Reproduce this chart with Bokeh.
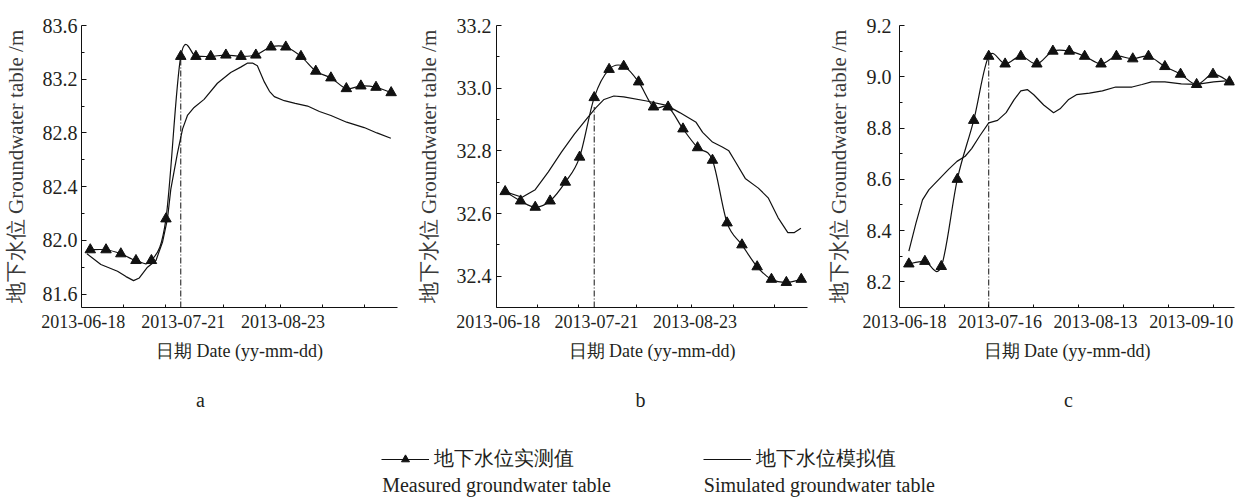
import numpy as np
from bokeh.plotting import figure
from bokeh.layouts import column, row
from bokeh.models import (Range1d, FixedTicker, NumeralTickFormatter, Legend,
                          LegendItem, Label)
from bokeh.embed import file_html
from bokeh.resources import INLINE

SERIF = "Liberation Serif"
TXT = "#231f20"
INK = "#111111"

# ---------------- data ----------------
# x is "days after 2013-06-18"
ab_label_days = [0, 33, 66]
ab_label_text = ["2013-06-18", "2013-07-21", "2013-08-23"]
ab_minor_days = [13.3, 27.0, 46.3, 60.1, 65.0, 79.1, 92.8]
c_label_days = [0, 28, 56, 84]
c_label_text = ["2013-06-18", "2013-07-16", "2013-08-13", "2013-09-10"]
c_minor_days = [11.8, 24.7, 37.8, 51.0, 64.2, 77.3, 90.5]

meas_days_ab = [2.3, 7.5, 12.4, 17.4, 22.5, 27.3, 32.2, 37.2, 42.1, 47.1, 52.1,
                57.0, 62.0, 66.9, 71.9, 76.8, 81.8, 86.9, 91.7, 96.7, 101.7]
meas_a = [81.93, 81.93, 81.90, 81.85, 81.85, 82.16, 83.37, 83.37, 83.37, 83.38, 83.37,
          83.38, 83.44, 83.44, 83.37, 83.26, 83.21, 83.13, 83.15, 83.14, 83.10]
sim_days_a = [1.2, 5.8, 11.3, 14.1, 16.6, 18.5, 21.2, 24.0, 26.2, 27.8, 28.9, 31.1,
              32.8, 34.4, 36.6, 39.9, 44.3, 48.7, 52.0, 54.3, 55.9, 57.5, 59.8, 61.5,
              63.1, 66.4, 70.0, 74.1, 78.0, 81.8, 87.0, 92.8, 97.0, 101.6]
sim_a = [81.90, 81.82, 81.77, 81.73, 81.70, 81.72, 81.80, 81.85, 81.99, 82.16, 82.38, 82.65,
         82.83, 82.93, 82.99, 83.05, 83.17, 83.25, 83.29, 83.32, 83.32, 83.30, 83.18, 83.11,
         83.07, 83.04, 83.02, 83.00, 82.96, 82.93, 82.88, 82.84, 82.80, 82.76]

meas_b = [32.67, 32.64, 32.62, 32.64, 32.70, 32.78, 32.97, 33.06, 33.07, 33.02, 32.94,
          32.94, 32.87, 32.81, 32.77, 32.57, 32.50, 32.43, 32.39, 32.38, 32.39]
sim_days_b = [2.3, 8.0, 12.4, 16.8, 21.2, 25.6, 30.0, 32.8, 35.5, 38.8, 42.1, 49.8, 56.5,
              60.9, 66.4, 68.6, 71.9, 75.2, 77.4, 79.6, 82.9, 87.3, 90.6, 93.9, 97.2,
              99.4, 101.6]
sim_b = [32.67, 32.652, 32.676, 32.733, 32.796, 32.854, 32.906, 32.938, 32.964, 32.975,
         32.972, 32.959, 32.945, 32.922, 32.891, 32.859, 32.828, 32.812, 32.80, 32.765,
         32.712, 32.681, 32.65, 32.587, 32.539, 32.539, 32.553]

meas_days_c = [1.3, 6.0, 10.8, 15.5, 20.3, 24.7, 29.5, 34.1, 38.8, 43.5, 48.3, 52.8,
               57.6, 62.1, 66.9, 71.5, 76.3, 80.9, 85.6, 90.4, 95.2]
meas_c = [8.27, 8.28, 8.26, 8.60, 8.83, 9.08, 9.05, 9.08, 9.05, 9.10, 9.10, 9.08,
          9.05, 9.08, 9.07, 9.08, 9.04, 9.01, 8.97, 9.01, 8.98]
sim_days_c = [1.3, 3.4, 5.3, 7.2, 10.1, 13.0, 15.4, 17.8, 19.7, 22.1, 24.7, 27.3, 29.8,
              32.1, 34.1, 36.0, 37.9, 40.8, 43.7, 45.6, 48.0, 50.4, 54.2, 58.0, 61.9,
              66.7, 69.6, 72.4, 76.3, 81.1, 85.6, 90.6, 95.2]
sim_c = [8.32, 8.43, 8.52, 8.56, 8.60, 8.64, 8.67, 8.69, 8.72, 8.77, 8.82, 8.83, 8.86,
         8.91, 8.945, 8.95, 8.93, 8.89, 8.86, 8.875, 8.91, 8.93, 8.936, 8.945, 8.96,
         8.96, 8.97, 8.98, 8.98, 8.972, 8.97, 8.98, 8.985]

# event marker (index into the measured series) and its top value in panel b
event_idx_ab = 6
event_idx_c = 5
event_top_b = 32.94

yticks_a = [81.6, 82.0, 82.4, 82.8, 83.2, 83.6]
yminor_a = [81.8, 82.2, 82.6, 83.0, 83.4]
yticks_b = [32.4, 32.6, 32.8, 33.0, 33.2]
yminor_b = [32.3, 32.5, 32.7, 32.9, 33.1]
yticks_c = [8.2, 8.4, 8.6, 8.8, 9.0, 9.2]
yminor_c = [8.1, 8.3, 8.5, 8.7, 8.9, 9.1]

Y_TITLE = "地下水位 Groundwater table /m"
X_TITLE = "日期 Date (yy-mm-dd)"
panel_letters = ["a", "b", "c"]
legend_cn = ["地下水位实测值", "地下水位模拟值"]
legend_en = ["Measured groundwater table", "Simulated groundwater table"]

ROW_H = 370
BOT_H = 129


def catmull_controls(xs, ys):
    """Cubic Bezier control points (Catmull-Rom) through the measured points."""
    x = np.asarray(xs, float)
    y = np.asarray(ys, float)
    n = len(x)
    qx = np.concatenate([[x[0]], x, [x[-1]]])
    qy = np.concatenate([[y[0]], y, [y[-1]]])
    cx0 = qx[1:n] + (qx[2:n + 1] - qx[0:n - 1]) / 6.0
    cy0 = qy[1:n] + (qy[2:n + 1] - qy[0:n - 1]) / 6.0
    cx1 = qx[2:n + 1] - (qx[3:n + 2] - qx[1:n]) / 6.0
    cy1 = qy[2:n + 1] - (qy[3:n + 2] - qy[1:n]) / 6.0
    return dict(x0=x[:-1], y0=y[:-1], x1=x[1:], y1=y[1:],
                cx0=cx0, cy0=cy0, cx1=cx1, cy1=cy1)


def make_panel(width, left, right, top, frame_h, xr, yr, yt, ym, xt, xl, xm,
               ytick_standoff, ylabel_standoff):
    p = figure(width=width, height=ROW_H, x_range=Range1d(*xr), y_range=Range1d(*yr),
               min_border_left=left, min_border_right=right, min_border_top=top,
               min_border_bottom=ROW_H - top - frame_h,
               output_backend="svg", toolbar_location=None)
    p.outline_line_color = None
    p.grid.visible = False
    p.background_fill_color = "white"
    p.border_fill_color = "white"

    xa = p.xaxis[0]
    xa.ticker = FixedTicker(ticks=xt, minor_ticks=xm)
    xa.major_label_overrides = {t: s for t, s in zip(xt, xl)}
    xa.major_tick_in = 0
    xa.major_tick_out = 0
    xa.minor_tick_in = 3
    xa.minor_tick_out = 0
    xa.major_label_standoff = 7
    xa.major_label_text_font = SERIF
    xa.major_label_text_font_size = "18px"
    xa.major_label_text_color = TXT
    xa.axis_label = X_TITLE
    xa.axis_label_text_font = SERIF
    xa.axis_label_text_font_size = "18px"
    xa.axis_label_text_font_style = "normal"
    xa.axis_label_text_color = TXT
    xa.axis_label_standoff = 10
    xa.axis_line_color = INK
    xa.major_tick_line_color = INK
    xa.minor_tick_line_color = INK

    ya = p.yaxis[0]
    ya.ticker = FixedTicker(ticks=yt, minor_ticks=ym)
    ya.formatter = NumeralTickFormatter(format="0.0")
    ya.major_tick_in = 5
    ya.major_tick_out = 0
    ya.minor_tick_in = 3
    ya.minor_tick_out = 0
    ya.major_label_standoff = ytick_standoff
    ya.major_label_text_font = SERIF
    ya.major_label_text_font_size = "20px"
    ya.major_label_text_color = TXT
    ya.axis_label = Y_TITLE
    ya.axis_label_text_font = SERIF
    ya.axis_label_text_font_size = "21px"
    ya.axis_label_text_font_style = "normal"
    ya.axis_label_text_color = "#3a3a3a"
    ya.axis_label_standoff = ylabel_standoff
    ya.axis_line_color = INK
    ya.major_tick_line_color = INK
    ya.minor_tick_line_color = INK
    return p


def draw_series(p, mdays, mvals, sdays, svals, ev_x, ev_bottom, ev_top):
    p.segment(x0=[ev_x], y0=[ev_bottom], x1=[ev_x], y1=[ev_top],
              line_color=INK, line_width=1, line_dash="6 2 1 2")
    p.line(sdays, svals, line_color=INK, line_width=1.2)
    p.bezier(line_color=INK, line_width=1.2, **catmull_controls(mdays, mvals))
    p.scatter(mdays, mvals, marker="triangle", size=10.5, fill_color=INK, line_color=INK)


pa = make_panel(413, 81, 16, 22, 285, (-0.6, 103.8), (81.5, 83.6), yticks_a, yminor_a,
                ab_label_days, ab_label_text, ab_minor_days, 4, 12)
draw_series(pa, meas_days_ab, meas_a, sim_days_a, sim_a,
            meas_days_ab[event_idx_ab], 81.5, meas_a[event_idx_ab])

pb = make_panel(410, 78, 16, 25, 286, (-0.6, 103.8), (32.3, 33.2), yticks_b, yminor_b,
                ab_label_days, ab_label_text, ab_minor_days, 5, 13)
draw_series(pb, meas_days_ab, meas_b, sim_days_b, sim_b,
            meas_days_ab[event_idx_ab], 32.3, event_top_b)

pc = make_panel(419, 71, 8, 16, 291, (-1.44, 96.7), (8.1, 9.2), yticks_c, yminor_c,
                c_label_days, c_label_text, c_minor_days, 8, 13)
draw_series(pc, meas_days_c, meas_c, sim_days_c, sim_c,
            meas_days_c[event_idx_c], 8.1, meas_c[event_idx_c])

# ---------------- bottom: panel letters + legend ----------------
pbot = figure(width=1242, height=BOT_H, x_range=Range1d(0, 1242), y_range=Range1d(BOT_H, 0),
              x_axis_type=None, y_axis_type=None, min_border=0,
              output_backend="svg", toolbar_location=None)
pbot.outline_line_color = None
pbot.grid.visible = False

for lx, letter in zip([200, 640, 1068], panel_letters):
    pbot.add_layout(Label(x=lx, y=29, text=letter, text_align="center",
                          text_baseline="middle", text_font=SERIF,
                          text_font_size="20px", text_color=TXT))

nan2 = [np.nan, np.nan]
r_ml = pbot.line(x=nan2, y=nan2, line_color=INK, line_width=1.2)
r_mt = pbot.scatter(x=nan2, y=nan2, marker="triangle", size=10, fill_color=INK, line_color=INK)
r_sl = pbot.line(x=nan2, y=nan2, line_color=INK, line_width=1.2)
legend = Legend(items=[LegendItem(label=legend_cn[0], renderers=[r_ml, r_mt]),
                       LegendItem(label=legend_cn[1], renderers=[r_sl])],
                location=(381, 27), orientation="horizontal",
                border_line_color=None, background_fill_alpha=0,
                padding=0, margin=0, spacing=129, label_standoff=5,
                glyph_width=48, glyph_height=20, label_height=20,
                label_text_font=SERIF, label_text_font_size="20px",
                label_text_color=TXT)
pbot.add_layout(legend)

for lx, txt in zip([381.7, 703.3], legend_en):
    pbot.add_layout(Label(x=lx, y=114, text=txt, text_align="left",
                          text_baseline="middle", text_font=SERIF,
                          text_font_size="20px", text_color=TXT))

layout = column(row(pa, pb, pc), pbot)
open("out.html", "w").write(file_html(layout, INLINE))
